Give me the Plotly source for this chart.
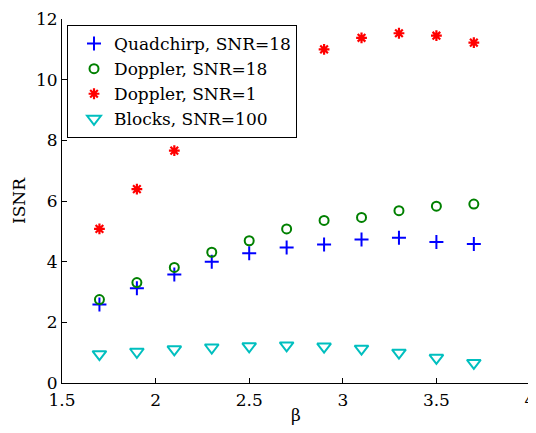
import plotly.graph_objects as go

beta = [1.7, 1.9, 2.1, 2.3, 2.5, 2.7, 2.9, 3.1, 3.3, 3.5, 3.7]
quadchirp_18 = [2.59, 3.12, 3.58, 4.00, 4.28, 4.47, 4.57, 4.73, 4.79, 4.65, 4.58]
doppler_18 = [2.75, 3.31, 3.81, 4.31, 4.69, 5.08, 5.36, 5.46, 5.68, 5.83, 5.90]
doppler_1 = [5.08, 6.39, 7.66, 8.8, 9.7, 10.4, 11.0, 11.38, 11.53, 11.45, 11.22]
blocks_100 = [0.95, 1.03, 1.11, 1.17, 1.21, 1.24, 1.20, 1.13, 1.00, 0.83, 0.66]
x_ticks = [1.5, 2, 2.5, 3, 3.5, 4]
x_ticktext = ["1.5", "2", "2.5", "3", "3.5", "4"]
y_ticks = [0, 2, 4, 6, 8, 10, 12]

FONT = "DejaVu Serif"

fig = go.Figure()
fig.add_trace(go.Scatter(x=beta, y=quadchirp_18, mode="markers", name="Quadchirp, SNR=18",
                         marker=dict(symbol="cross-thin-open", size=10, color="#0000ff",
                                     line=dict(width=2, color="#0000ff"))))
fig.add_trace(go.Scatter(x=beta, y=doppler_18, mode="markers", name="Doppler, SNR=18",
                         marker=dict(symbol="circle-open", size=9, color="#008000",
                                     line=dict(width=2, color="#008000"))))
fig.add_trace(go.Scatter(x=beta, y=doppler_1, mode="markers", name="Doppler, SNR=1",
                         marker=dict(symbol="asterisk-open", size=9, color="#ff0000",
                                     line=dict(width=2.2, color="#ff0000"))))
fig.add_trace(go.Scatter(x=beta, y=blocks_100, mode="markers", name="Blocks, SNR=100",
                         marker=dict(symbol="triangle-down-open", size=12, color="#00bfbf",
                                     line=dict(width=2, color="#00bfbf"))))

axis_common = dict(showgrid=False, zeroline=False, showline=True, linecolor="black",
                   linewidth=1, ticks="inside", ticklen=5, tickcolor="black",
                   tickfont=dict(family=FONT, size=17, color="black"), mirror=False,
                   automargin=False, ticklabeloverflow="allow")

fig.update_layout(
    width=528, height=417,
    margin=dict(l=54, r=6, t=11, b=42),
    paper_bgcolor="white", plot_bgcolor="white",
    font=dict(family=FONT, color="black"),
    xaxis=dict(range=[1.5, 4], tickmode="array", tickvals=x_ticks, ticktext=x_ticktext,
               ticklabelstandoff=2,
               title=dict(text="β", font=dict(family=FONT, size=17, color="black"), standoff=5),
               **axis_common),
    yaxis=dict(range=[0, 12], tickmode="array", tickvals=y_ticks,
               title=dict(text="ISNR", font=dict(family=FONT, size=17, color="black"), standoff=6),
               **axis_common),
    showlegend=True,
    legend=dict(x=0.0107, y=0.9835, xanchor="left", yanchor="top",
                bgcolor="white", bordercolor="black", borderwidth=1,
                font=dict(family=FONT, size=17, color="black"),
                itemwidth=30, indentation=6, tracegroupgap=0),
)

fig.write_html("out.html")
